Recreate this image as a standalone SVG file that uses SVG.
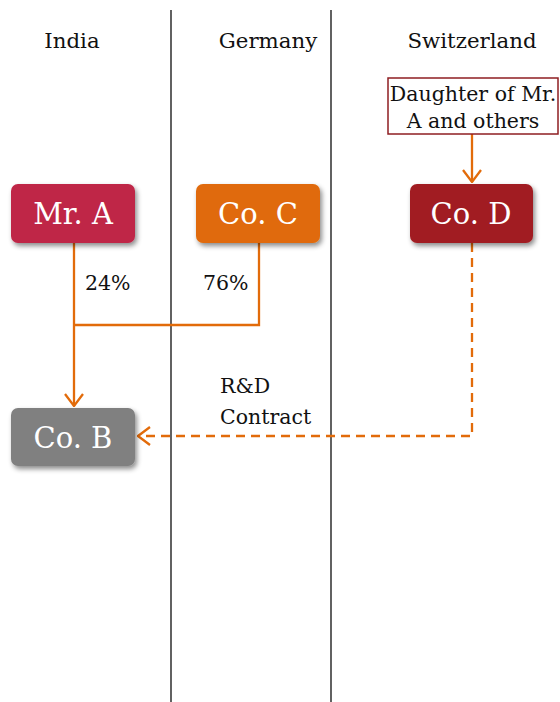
<svg xmlns="http://www.w3.org/2000/svg" width="560" height="702" viewBox="0 0 560 702">
<style>
text{font-family:"DejaVu Serif","Liberation Serif",serif;}
.hdr{font-size:21.3px;fill:#111;text-anchor:middle;}
.lbl{font-size:20.5px;fill:#111;}
.nt{font-size:29px;fill:#fff;text-anchor:middle;}
.sep{stroke:#3a3a3a;stroke-width:1.6;}
.c{fill:none;stroke:#E26B0A;stroke-width:2.3;}
.d{stroke-dasharray:9,6;}
</style>
<defs>
<filter id="sh" x="-20%" y="-20%" width="150%" height="160%">
<feDropShadow dx="2" dy="3" stdDeviation="2.5" flood-color="#000" flood-opacity="0.45"/>
</filter>
<marker id="ar" viewBox="0 0 14 20" refX="13" refY="10" markerWidth="14" markerHeight="20" markerUnits="userSpaceOnUse" orient="auto">
<path d="M1,1 L13,10 L1,19" fill="none" stroke="#E26B0A" stroke-width="2.3"/>
</marker>
</defs>
<line class="sep" x1="171" y1="10" x2="171" y2="702"/>
<line class="sep" x1="331" y1="10" x2="331" y2="702"/>
<text class="hdr" x="72" y="48">India</text>
<text class="hdr" x="268" y="48">Germany</text>
<text class="hdr" x="472" y="48">Switzerland</text>
<g id="connectors">
<path class="c" d="M74,243 V406" marker-end="url(#ar)"/>
<path class="c" d="M259,243 V325 H74"/>
<path class="c" d="M472,134 V182" marker-end="url(#ar)"/>
<path class="c d" d="M472,243 V436 H138" marker-end="url(#ar)"/>
</g>
<text class="lbl" x="85" y="290">24%</text>
<text class="lbl" x="203" y="290">76%</text>
<text class="lbl" x="220" y="393">R&amp;D</text>
<text class="lbl" x="220" y="424">Contract</text>
<g id="daughter">
<rect x="388" y="78" width="170" height="56" fill="#fff" stroke="#8E1E22" stroke-width="1.5"/>
<text class="lbl" x="473" y="101" text-anchor="middle">Daughter of Mr.</text>
<text class="lbl" x="473" y="128" text-anchor="middle">A and others</text>
</g>
<g id="mrA">
<rect x="11" y="184" width="124" height="59" rx="7" fill="#BF2646" filter="url(#sh)"/>
<text class="nt" x="73" y="224">Mr. A</text>
</g>
<g id="coC">
<rect x="196" y="184" width="124" height="59" rx="7" fill="#E06A08" filter="url(#sh)"/>
<text class="nt" x="258" y="224">Co. C</text>
</g>
<g id="coD">
<rect x="410" y="184" width="123" height="59" rx="7" fill="#A11F22" filter="url(#sh)"/>
<text class="nt" x="471" y="224">Co. D</text>
</g>
<g id="coB">
<rect x="11" y="408" width="124" height="58" rx="7" fill="#808080" filter="url(#sh)"/>
<text class="nt" x="73" y="448">Co. B</text>
</g>
</svg>
